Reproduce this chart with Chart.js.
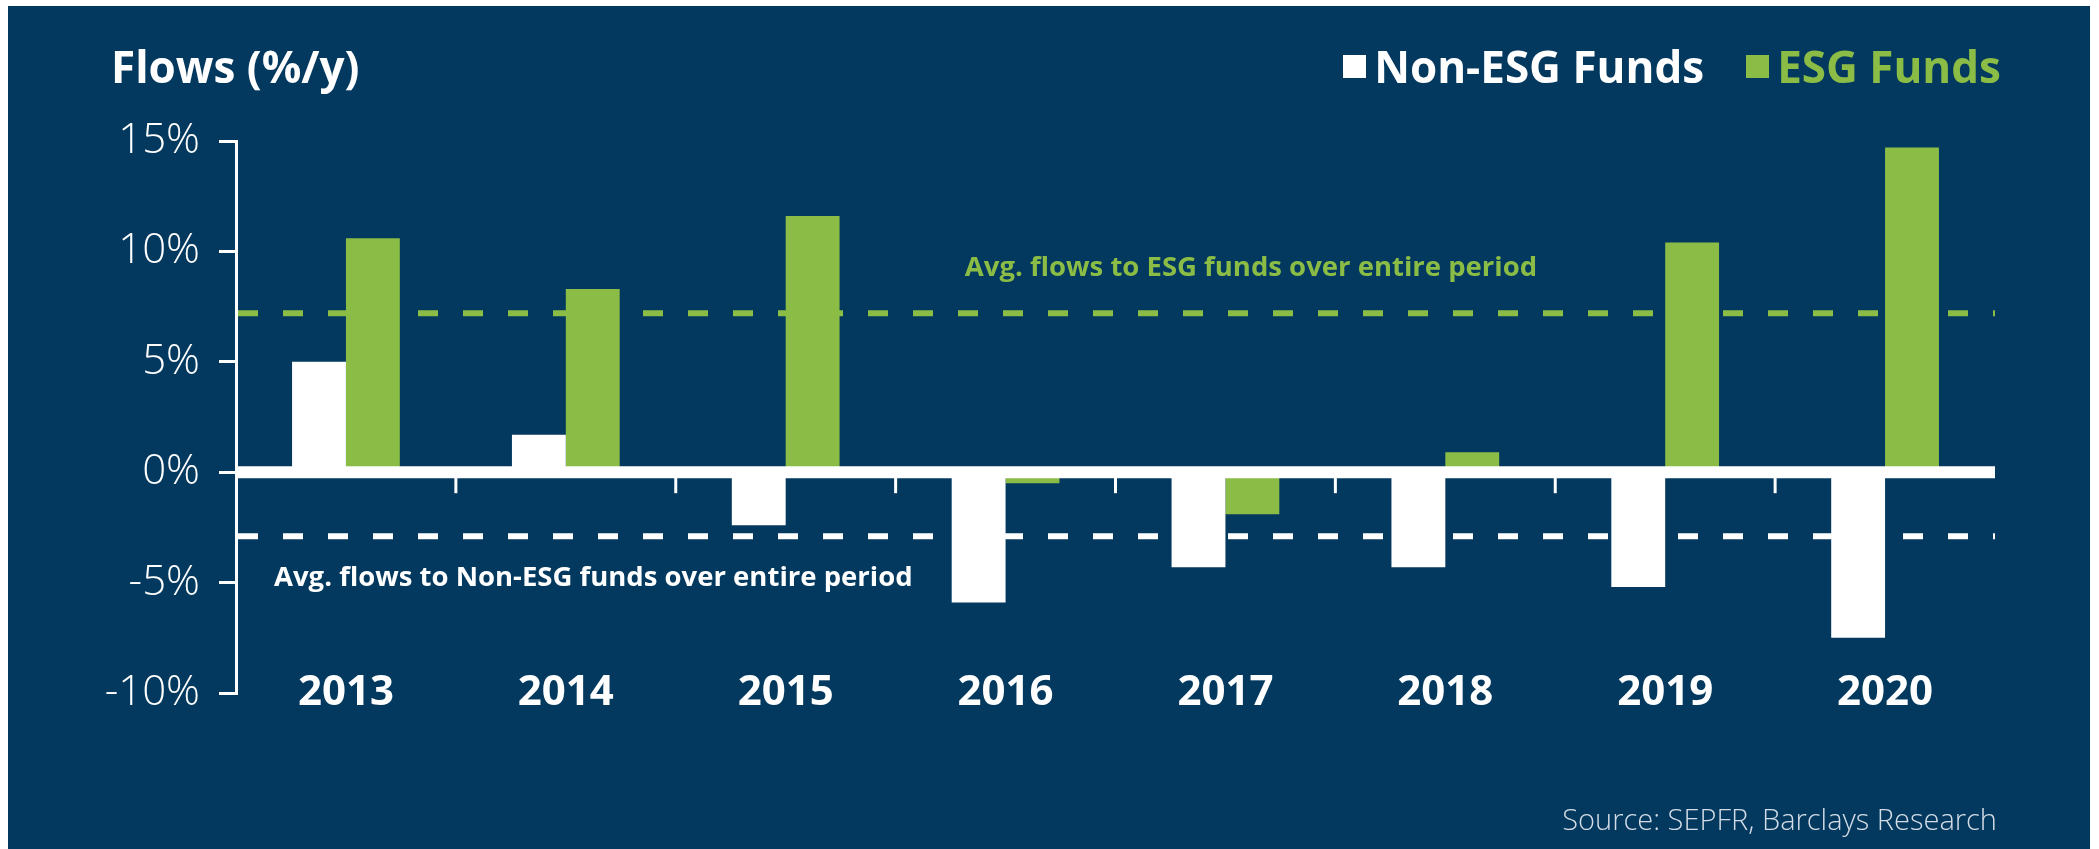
<!DOCTYPE html>
<html>
<head>
<meta charset="utf-8">
<title>Flows to ESG and Non-ESG funds</title>
<script src="https://cdn.jsdelivr.net/npm/chart.js@4.4.1/dist/chart.umd.min.js"></script>
<style>
  html, body { margin: 0; padding: 0; background: #fff; }
  body { width: 2099px; height: 849px; overflow: hidden; position: relative; font-family: "Open Sans", sans-serif; }
  .panel { position: absolute; left: 8px; top: 6px; width: 2082px; height: 843px; background: #03395e; }
  .chart-box { position: absolute; left: 0; top: 0; width: 2082px; height: 843px; }
  .chart-title { position: absolute; left: 103px; top: 38px; font-size: 44px; font-weight: 700; color: #fff; line-height: 1; }
  #legend { position: absolute; right: 89px; top: 38px; display: flex; align-items: center; font-size: 44px; font-weight: 700; line-height: 1; }
  #legend .item { display: flex; align-items: center; margin-left: 42px; }
  #legend .swatch { width: 23px; height: 23px; margin-right: 8px; }
  .source { position: absolute; right: 93px; top: 798px; font-size: 29px; font-weight: 300; color: #d3dce6; line-height: 1; }
</style>
</head>
<body>
<div class="panel">
  <div class="chart-box"><canvas id="flowsChart"></canvas></div>
  <div class="chart-title">Flows (%/y)</div>
  <div id="legend"></div>
  <div class="source">Source: SEPFR, Barclays Research</div>
</div>
<script>
  const categories = ["2013", "2014", "2015", "2016", "2017", "2018", "2019", "2020"];
  const nonEsgFlows = [5.0, 1.7, -2.4, -5.9, -4.3, -4.3, -5.2, -7.5];
  const esgFlows = [10.6, 8.3, 11.6, -0.5, -1.9, 0.9, 10.4, 14.7];
  const avgEsgFlow = 7.2;
  const avgNonEsgFlow = -2.9;
  const yTicks = [-10, -5, 0, 5, 10, 15];

  const white = "#ffffff";
  const green = "#8bbd46";

  Chart.defaults.font.family = "'Open Sans', sans-serif";

  // zero line, category separators and the two dashed averages
  const flowLines = {
    id: "flowLines",
    beforeDatasetsDraw(chart) {
      const { ctx, chartArea: a, scales: { y } } = chart;
      ctx.save();
      ctx.lineWidth = 6;
      ctx.setLineDash([20, 25]);
      [[avgEsgFlow, green], [avgNonEsgFlow, white]].forEach(([v, c]) => {
        const py = y.getPixelForValue(v);
        ctx.strokeStyle = c;
        ctx.beginPath();
        ctx.moveTo(a.left + 2, py);
        ctx.lineTo(a.right, py);
        ctx.stroke();
      });
      ctx.restore();
    },
    afterDatasetsDraw(chart) {
      const { ctx, chartArea: a, scales: { x, y } } = chart;
      const y0 = y.getPixelForValue(0);
      ctx.save();
      ctx.strokeStyle = white;
      ctx.lineWidth = 12;
      ctx.beginPath();
      ctx.moveTo(a.left, y0);
      ctx.lineTo(a.right, y0);
      ctx.stroke();

      ctx.lineWidth = 3;
      for (let i = 0; i < categories.length - 1; i++) {
        const bx = (x.getPixelForValue(i) + x.getPixelForValue(i + 1)) / 2;
        ctx.beginPath();
        ctx.moveTo(bx, y0);
        ctx.lineTo(bx, y0 + 21);
        ctx.stroke();
      }

      ctx.font = "bold 27.5px 'Open Sans'";
      ctx.textBaseline = "middle";
      ctx.fillStyle = green;
      ctx.textAlign = "center";
      ctx.fillText("Avg. flows to ESG funds over entire period", a.left + 1015, y.getPixelForValue(avgEsgFlow) - 45);
      ctx.fillStyle = white;
      ctx.textAlign = "left";
      ctx.fillText("Avg. flows to Non-ESG funds over entire period", a.left + 38, y.getPixelForValue(avgNonEsgFlow) + 42);
      ctx.restore();
    },
  };

  const chart = new Chart(document.getElementById("flowsChart"), {
    type: "bar",
    data: {
      labels: categories,
      datasets: [
        { label: "Non-ESG Funds", data: nonEsgFlows, backgroundColor: white },
        { label: "ESG Funds", data: esgFlows, backgroundColor: green },
      ],
    },
    options: {
      responsive: true,
      maintainAspectRatio: false,
      animation: false,
      layout: { padding: { top: 135, right: 95, bottom: 156, left: 0 } },
      datasets: { bar: { categoryPercentage: 0.49, barPercentage: 1.0, borderWidth: 0 } },
      scales: {
        x: {
          // year labels sit on the -10% level
          position: { y: -10 },
          grid: { display: false, drawTicks: false },
          border: { display: false },
          ticks: {
            color: white,
            font: { size: 42, weight: "bold" },
            padding: -25,
            maxRotation: 0,
            autoSkip: false,
          },
        },
        y: {
          min: -10,
          max: 15,
          afterBuildTicks(s) {
            s.ticks = yTicks.map((v) => ({ value: v }));
          },
          grid: { drawOnChartArea: false, drawTicks: true, tickLength: 17, color: white, lineWidth: 3 },
          border: { display: true, color: white, width: 3 },
          ticks: {
            color: white,
            font: { size: 42, weight: 300 },
            padding: 19,
            callback: (v) => v + "%",
          },
          afterFit(s) {
            s.width = 228;
          },
        },
      },
      plugins: {
        legend: { display: false },
        tooltip: { enabled: false },
      },
    },
    plugins: [flowLines],
  });

  // legend built from the datasets
  const legendEl = document.getElementById("legend");
  chart.data.datasets.forEach((ds) => {
    const item = document.createElement("div");
    item.className = "item";
    item.style.color = ds.backgroundColor;
    const swatch = document.createElement("span");
    swatch.className = "swatch";
    swatch.style.background = ds.backgroundColor;
    item.appendChild(swatch);
    item.appendChild(document.createTextNode(ds.label));
    legendEl.appendChild(item);
  });
</script>
</body>
</html>
